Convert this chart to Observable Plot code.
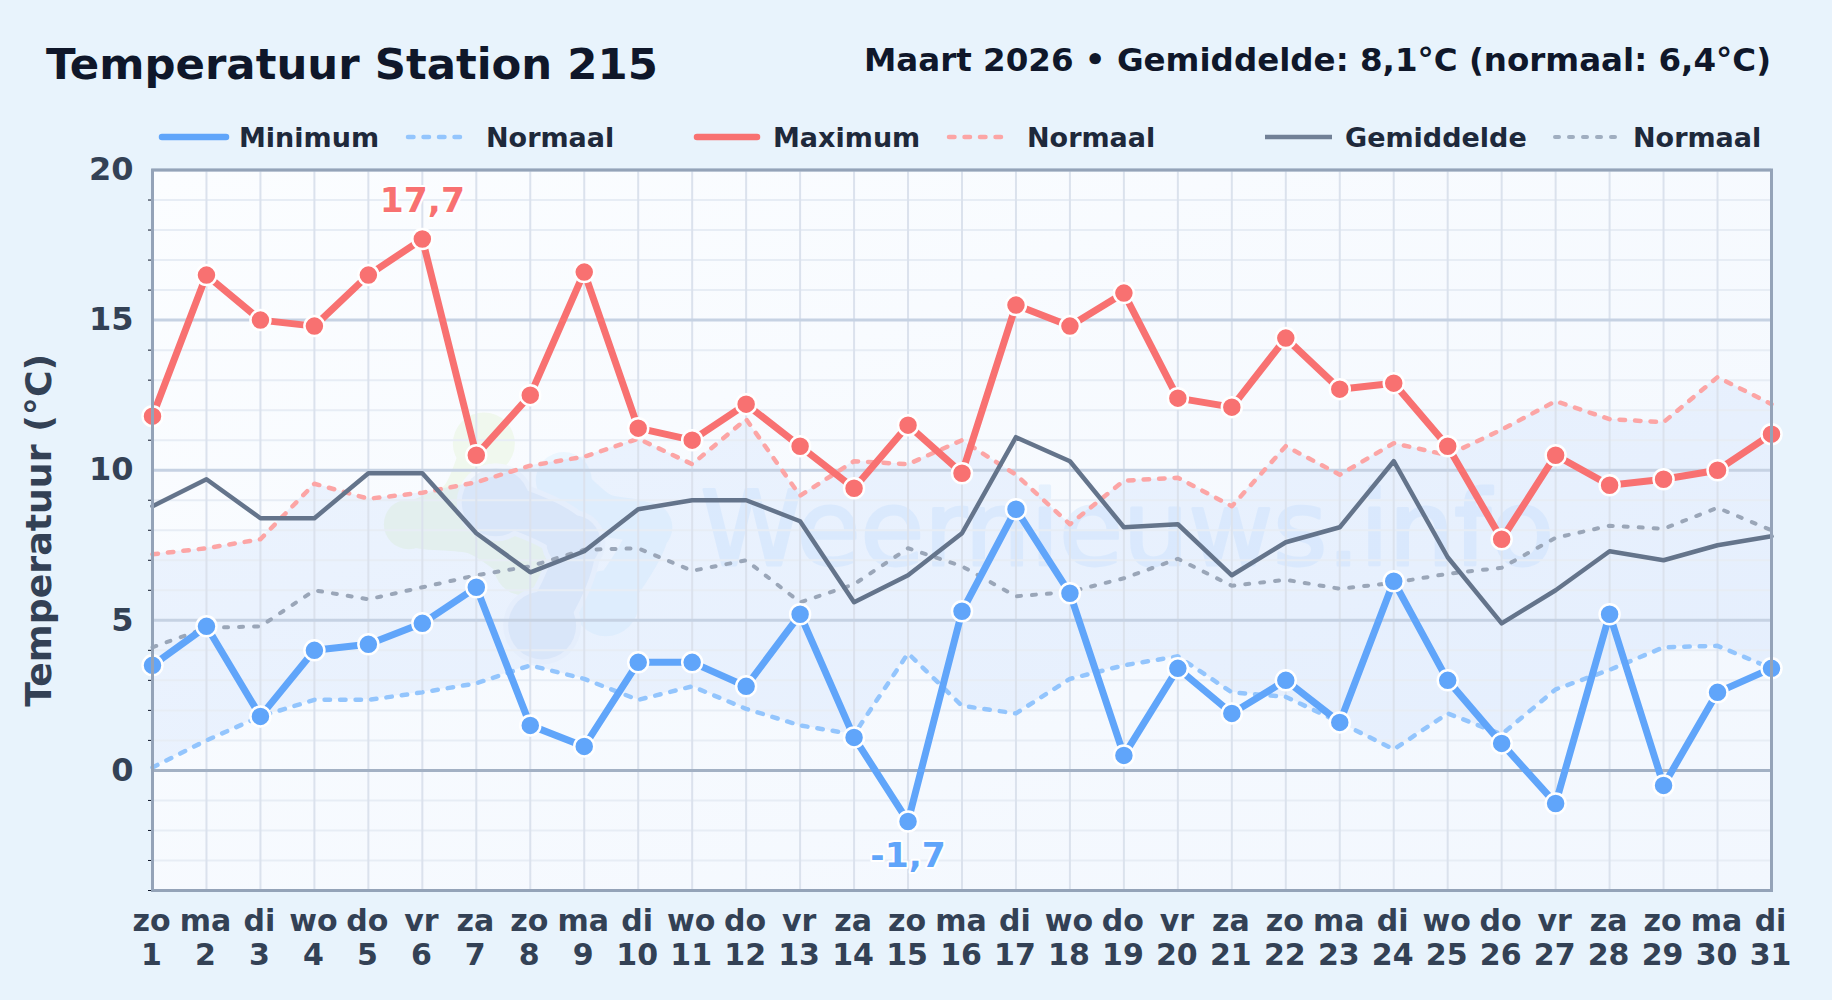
<!DOCTYPE html>
<html lang="nl">
<head>
<meta charset="utf-8">
<script src="https://cdn.jsdelivr.net/npm/d3@7"></script>
<script src="https://cdn.jsdelivr.net/npm/@observablehq/plot@0.6"></script>
<style>
html,body{margin:0;padding:0;background:#e8f3fc;width:1832px;height:1000px;overflow:hidden}
body{font-family:"DejaVu Sans",sans-serif;font-weight:700}
#head{position:relative;width:1832px;height:150px}
#head div{position:absolute;white-space:nowrap;line-height:1}
#title{left:46px;top:43px;font-size:43.4px;color:#0f172a}
#sub{right:61px;top:44px;font-size:32.5px;color:#0f172a}
.lg{font-size:27px;color:#1e293b;top:124px}
#head svg{position:absolute;overflow:visible}
#chart svg{display:block;background:transparent}
</style>
</head>
<body>
<div id="head">
  <div id="title">Temperatuur Station 215</div>
  <div id="sub">Maart 2026 • Gemiddelde: 8,1°C (normaal: 6,4°C)</div>
</div>
<div id="chart"></div>
<script>
const days = d3.range(1, 32);
const weekdays = ["zo","ma","di","wo","do","vr","za","zo","ma","di","wo","do","vr","za","zo","ma","di","wo","do","vr","za","zo","ma","di","wo","do","vr","za","zo","ma","di"];
const tMin = [3.5,4.8,1.8,4.0,4.2,4.9,6.1,1.5,0.8,3.6,3.6,2.8,5.2,1.1,-1.7,5.3,8.7,5.9,0.5,3.4,1.9,3.0,1.6,6.3,3.0,0.9,-1.1,5.2,-0.5,2.6,3.4];
const tMax = [11.8,16.5,15.0,14.8,16.5,17.7,10.5,12.5,16.6,11.4,11.0,12.2,10.8,9.4,11.5,9.9,15.5,14.8,15.9,12.4,12.1,14.4,12.7,12.9,10.8,7.7,10.5,9.5,9.7,10.0,11.2];
const tAvg = [8.8,9.7,8.4,8.4,9.9,9.9,7.9,6.6,7.3,8.7,9.0,9.0,8.3,5.6,6.5,7.9,11.1,10.3,8.1,8.2,6.5,7.6,8.1,10.3,7.1,4.9,6.0,7.3,7.0,7.5,7.8];
const normMin = [0.1,1.0,1.8,2.35,2.35,2.6,2.9,3.5,3.05,2.35,2.8,2.05,1.5,1.2,3.9,2.15,1.9,3.05,3.5,3.8,2.6,2.45,1.6,0.7,1.9,1.2,2.7,3.35,4.1,4.15,3.4];
const normMax = [7.2,7.4,7.7,9.55,9.05,9.25,9.6,10.15,10.45,11.05,10.2,11.7,9.15,10.3,10.2,11.0,9.85,8.2,9.65,9.75,8.8,10.8,9.85,10.9,10.5,11.35,12.3,11.7,11.6,13.1,12.2];
const normAvg = [4.1,4.75,4.8,6.0,5.7,6.1,6.5,6.8,7.35,7.4,6.65,7.0,5.6,6.2,7.4,6.8,5.8,5.95,6.4,7.05,6.15,6.35,6.05,6.25,6.55,6.75,7.75,8.15,8.05,8.75,8.0];
const yMajor = [0,5,10,15,20];
const yMinor = d3.range(-4,21).filter(v => v % 5 !== 0);

const legendItems = [
  {label:"Minimum",  color:"#60a5fa", w:6.5, dash:null,    cap:"round", x1:162,  x2:226,  tx:239},
  {label:"Normaal",  color:"#93c5fd", w:4.5, dash:"5.5 10",cap:"round", x1:408,  x2:462,  tx:486},
  {label:"Maximum",  color:"#f87171", w:6.5, dash:null,    cap:"round", x1:697,  x2:757,  tx:773},
  {label:"Normaal",  color:"#fca5a5", w:4.5, dash:"5.5 10",cap:"round", x1:949,  x2:1002, tx:1027},
  {label:"Gemiddelde",color:"#718096",w:4.5, dash:null,    cap:"butt",  x1:1265, x2:1332, tx:1345},
  {label:"Normaal",  color:"#a0aec0", w:4,   dash:"4 10",  cap:"round", x1:1555, x2:1617, tx:1633}
];
const head = document.getElementById("head");
for (const it of legendItems) {
  const t = document.createElement("div");
  t.className = "lg"; t.style.left = it.tx + "px"; t.textContent = it.label;
  head.appendChild(t);
  const s = d3.create("svg").attr("width",it.x2-it.x1).attr("height",10)
    .style("left",it.x1+"px").style("top","132px");
  s.append("line").attr("x1",0).attr("x2",it.x2-it.x1).attr("y1",5).attr("y2",5)
    .attr("stroke",it.color).attr("stroke-width",it.w).attr("stroke-linecap",it.cap)
    .attr("stroke-dasharray",it.dash);
  head.appendChild(s.node());
}

const T = (y) => days.map((d,i) => ({d, v:y[i]}));
const band = days.map((d,i) => ({d, lo:normMin[i], hi:normMax[i]}));

// faint logo behind the chart, in day / degree units
const logoGreen = [[7.14,10.89],[6.71,9.0],[5.9,8.2],[7.02,7.9],[7.88,6.83]];
const logoGreenHeads = [[7.14,10.89,31],[5.75,8.2,25],[7.88,6.83,30]];
const logoBlue  = [[7.36,8.93],[8.8,7.6],[8.22,4.83]];
const logoBlueHeads = [[7.36,8.93,34],[8.8,7.6,27],[8.22,4.83,34]];
const logoSky   = [[8.62,9.67],[9.3,8.57],[10.17,8.1],[9.4,5.57]];
const logoSkyHeads = [[8.62,9.67,28],[10.17,8.1,25],[9.4,5.57,33]];
const logoLine = (pts,color,w) => Plot.line(pts,{x:"0",y:"1",curve:"catmull-rom",stroke:color,strokeWidth:w,strokeLinecap:"round",strokeLinejoin:"round"});
const logoHeads = (pts,color,extra=0) => Plot.dot(pts,{x:"0",y:"1",r:p=>p[2]+extra,fill:color,stroke:null});

const gradient = () => {
  const s = d3.create("svg:defs");
  const g = s.append("linearGradient").attr("id","plotbg").attr("x1",0).attr("y1",0).attr("x2",1).attr("y2",1);
  g.append("stop").attr("offset",0).attr("stop-color","#fbfdff");
  g.append("stop").attr("offset",1).attr("stop-color","#f2f7fe");
  return s.node();
};
const series = (y,color,w,dash,cap) => Plot.line(T(y),{x:"d",y:"v",stroke:color,strokeWidth:w,strokeDasharray:dash,strokeLinecap:cap,strokeLinejoin:"round"});

const chart = Plot.plot({
  width:1832, height:850,
  marginTop:19.5, marginBottom:110, marginLeft:152, marginRight:61,
  style:{background:"transparent",fontFamily:"'DejaVu Sans',sans-serif",overflow:"visible"},
  x:{domain:[1,31],axis:null},
  y:{domain:[-4,20],axis:null},
  r:{type:"identity"},
  marks:[
    gradient,
    Plot.frame({fill:"url(#plotbg)",stroke:null}),
    logoLine(logoGreen,"#f0f8ee",44), logoHeads(logoGreenHeads,"#f0f8ee"),
    logoLine(logoSky,"#ebf6fe",42), logoHeads(logoSkyHeads,"#ebf6fe"),
    logoLine(logoBlue,"#f3f7fd",52), logoHeads(logoBlueHeads,"#f3f7fd",5),
    logoLine(logoBlue,"#e6eefa",42), logoHeads(logoBlueHeads,"#e6eefa"),
    Plot.areaY(band,{x:"d",y1:"lo",y2:"hi",fill:"#3b82f6",fillOpacity:0.07}),
    Plot.text(["Weernieuws.info"],{frameAnchor:"top-left",dx:548,dy:395,lineAnchor:"bottom",textAnchor:"start",fontSize:103.5,fontWeight:400,fill:"#93c5fd",stroke:"#93c5fd",strokeWidth:3,opacity:0.16}),
    Plot.gridY({ticks:yMinor,stroke:"#e7edf5",strokeWidth:2,strokeOpacity:1}),
    Plot.gridX({ticks:days,stroke:"#dbe2ed",strokeWidth:2,strokeOpacity:1}),
    Plot.gridY({ticks:yMajor.filter(v=>v),stroke:"#c6d2e3",strokeWidth:3,strokeOpacity:1}),
    Plot.ruleY([0],{stroke:"#a3b1c4",strokeWidth:3}),
    Plot.axisY({ticks:yMinor,tickSize:4,text:null,stroke:"#0f172a",label:null}),
    Plot.axisY({ticks:yMajor,tickSize:0,tickPadding:19,fontSize:32,fontWeight:700,fill:"#334155",label:null}),
    Plot.axisX({ticks:days,tickSize:0,tickPadding:16,tickFormat:d=>`${weekdays[d-1]}\n${d}`,fontSize:30,fontWeight:700,fill:"#334155",lineHeight:1.15,label:null,dx:-1}),
    Plot.text(["Temperatuur (°C)"],{frameAnchor:"left",dx:-113,rotate:-90,textAnchor:"middle",fontSize:36.3,fontWeight:700,fill:"#334155"}),
    series(normMin,"#93c5fd",4.5,"5.5 10","round"),
    series(normMax,"#fca5a5",4.5,"5.5 10","round"),
    series(normAvg,"#9aa6b8",4,"4 11","round"),
    series(tAvg,"#64748b",4.5),
    series(tMin,"#60a5fa",7),
    series(tMax,"#f87171",7),
    Plot.dot(T(tMin),{x:"d",y:"v",r:10,fill:"#60a5fa",stroke:"white",strokeWidth:2.5}),
    Plot.dot(T(tMax),{x:"d",y:"v",r:10,fill:"#f87171",stroke:"white",strokeWidth:2.5}),
    Plot.text([{d:6,v:17.7,s:"17,7"}],{x:"d",y:"v",text:"s",dy:-38,fontSize:34.5,fontWeight:700,fill:"#f87171",stroke:"white",strokeWidth:4,paintOrder:"stroke"}),
    Plot.text([{d:15,v:-1.7,s:"-1,7"}],{x:"d",y:"v",text:"s",dy:35,fontSize:34.5,fontWeight:700,fill:"#60a5fa",stroke:"white",strokeWidth:4,paintOrder:"stroke"}),
    Plot.frame({stroke:"#94a3b8",strokeWidth:3})
  ]
});
document.getElementById("chart").appendChild(chart);
</script>
</body>
</html>
